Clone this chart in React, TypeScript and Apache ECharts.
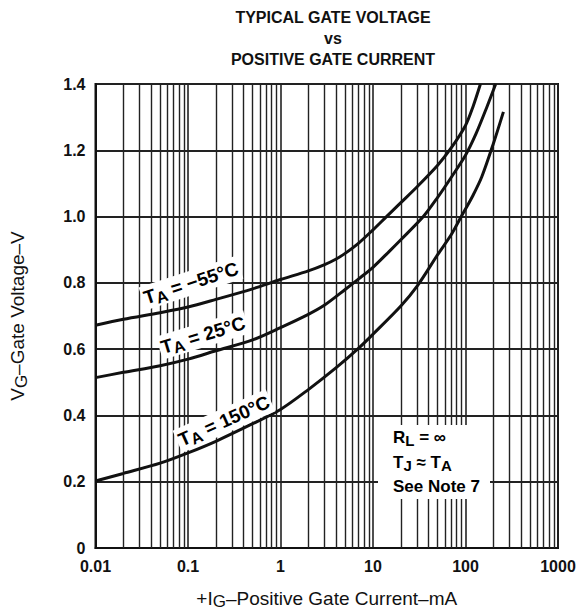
import React, { useEffect, useRef } from "react";
import * as echarts from "echarts";

const titleLines = ["TYPICAL GATE VOLTAGE", "vs", "POSITIVE GATE CURRENT"];
const xTickLabels = ["0.01", "0.1", "1", "10", "100", "1000"];
const yTickLabels = ["0", "0.2", "0.4", "0.6", "0.8", "1.0", "1.2", "1.4"];

const iM55 = [0.01, 0.02, 0.05, 0.1, 0.2, 0.5, 1, 2, 3, 4, 5, 7, 10, 14, 20, 30, 50, 70, 100, 120, 145];
const vM55 = [0.672, 0.69, 0.71, 0.727, 0.75, 0.782, 0.81, 0.836, 0.855, 0.872, 0.889, 0.92, 0.96, 1.0, 1.042, 1.09, 1.155, 1.207, 1.275, 1.33, 1.4];

const i25 = [0.01, 0.02, 0.05, 0.1, 0.2, 0.5, 1, 2, 3, 5, 7, 10, 15, 20, 35, 50, 70, 100, 130, 170, 212];
const v25 = [0.514, 0.53, 0.55, 0.57, 0.595, 0.628, 0.665, 0.705, 0.733, 0.78, 0.812, 0.847, 0.895, 0.93, 1.0, 1.058, 1.118, 1.185, 1.25, 1.33, 1.4];

const i150 = [0.01, 0.02, 0.05, 0.1, 0.2, 0.5, 1, 2, 4, 7, 10, 20, 30, 50, 70, 90, 120, 150, 200, 257];
const v150 = [0.202, 0.225, 0.256, 0.287, 0.322, 0.375, 0.418, 0.478, 0.544, 0.603, 0.645, 0.73, 0.79, 0.885, 0.945, 1.0, 1.063, 1.12, 1.22, 1.316];

const decades = [0.01, 0.1, 1, 10, 100];
const multiples = [2, 3, 4, 5, 6, 7, 8, 9];

const FONT = "Liberation Sans, Arial, Helvetica, sans-serif";

function pairs(xs: number[], ys: number[]) {
  return xs.map((x, i) => [x, ys[i]]);
}

export default function App() {
  const ref = useRef<HTMLDivElement>(null);
  useEffect(() => {
    if (!ref.current) return;
    const chart = echarts.init(ref.current, undefined, { renderer: "svg" });
    const minorX: number[] = [];
    decades.forEach((d) => multiples.forEach((m) => minorX.push(+(d * m).toPrecision(3))));

    const curveStyle = { color: "#111", width: 3 };
    const mk = (size: number, sub: number, weight: string) => ({
      m: { fontSize: size, fontFamily: FONT, fontWeight: weight, lineHeight: size + 5, verticalAlign: "middle", color: "#111" },
      s: { fontSize: sub, fontFamily: FONT, fontWeight: weight, lineHeight: sub - 2, verticalAlign: "bottom", color: "#111" },
    });
    const axisRich = mk(19, 17, "normal");
    const noteRich = mk(17, 15, "bold");
    const curveRich = mk(19, 16, "bold");
    const curveLabel = (text: string, x: number, y: number, deg: number) => ({
      type: "text",
      x,
      y,
      rotation: (deg * Math.PI) / 180,
      z: 100,
      style: {
        text,
        rich: curveRich,
        align: "center",
        verticalAlign: "middle",
        backgroundColor: "#fff",
        padding: [0, 2],
      },
    });

    chart.setOption({
      animation: false,
      backgroundColor: "#fff",
      title: {
        text: titleLines.join("\n"),
        left: 328,
        top: 2,
        textAlign: "center",
        textStyle: { fontFamily: FONT, fontSize: 16, fontWeight: "bold", color: "#111", lineHeight: 21 },
      },
      grid: { left: 89, right: 23, top: 84, bottom: 59, show: true, borderColor: "#111", borderWidth: 2, containLabel: false },
      xAxis: {
        type: "log",
        logBase: 10,
        min: 0.01,
        max: 1000,
        axisLine: { show: true, lineStyle: { color: "#111", width: 2 } },
        axisTick: { show: false },
        splitLine: { show: true, lineStyle: { color: "#222", width: 1.6 } },
        axisLabel: {
          formatter: (_v: number, idx: number) => xTickLabels[idx] ?? "",
          fontFamily: FONT,
          fontSize: 16,
          fontWeight: "bold",
          color: "#111",
          margin: 10,
        },
        name: "{m|+I}{s|G}{m|\u2013Positive Gate Current\u2013mA}",
        nameLocation: "middle",
        nameGap: 38,
        nameTextStyle: { rich: axisRich },
      },
      yAxis: {
        type: "value",
        min: 0,
        max: 1.4,
        interval: 0.2,
        axisLine: { show: true, lineStyle: { color: "#111", width: 2 } },
        axisTick: { show: false },
        splitLine: { show: true, lineStyle: { color: "#222", width: 1.8 } },
        axisLabel: {
          formatter: (_v: number, idx: number) => yTickLabels[idx] ?? "",
          fontFamily: FONT,
          fontSize: 16,
          fontWeight: "bold",
          color: "#111",
          margin: 10,
        },
        name: "{m|V}{s|G}{m|\u2013Gate Voltage\u2013V}",
        nameLocation: "middle",
        nameGap: 66,
        nameRotate: 90,
        nameTextStyle: { rich: axisRich },
      },
      series: [
        {
          type: "line",
          name: "-55",
          data: pairs(iM55, vM55),
          smooth: 0.3,
          showSymbol: false,
          lineStyle: curveStyle,
          z: 10,
          markLine: {
            silent: true,
            symbol: ["none", "none"],
            label: { show: false },
            lineStyle: { color: "#222", width: 1.4, type: "solid" },
            data: minorX.map((v) => ({ xAxis: v })),
            z: 1,
          },
        },
        { type: "line", name: "25", data: pairs(i25, v25), smooth: 0.3, showSymbol: false, lineStyle: curveStyle, z: 10 },
        { type: "line", name: "150", data: pairs(i150, v150), smooth: 0.3, showSymbol: false, lineStyle: curveStyle, z: 10 },
      ],
      graphic: [
        curveLabel("{m|T}{s|A}{m| = \u221255\u00b0C}", 191, 283, 18),
        curveLabel("{m|T}{s|A}{m| = 25\u00b0C}", 203, 335, 17),
        curveLabel("{m|T}{s|A}{m| = 150\u00b0C}", 224, 421, 24),
        {
          type: "rect",
          shape: { x: 378, y: 425, width: 112, height: 74 },
          style: { fill: "#fff" },
          z: 90,
        },
        {
          type: "text",
          x: 393,
          y: 437,
          z: 100,
          style: { text: "{m|R}{s|L}{m| = \u221e}", rich: noteRich, verticalAlign: "middle" },
        },
        {
          type: "text",
          x: 393,
          y: 462,
          z: 100,
          style: { text: "{m|T}{s|J}{m| \u2248 T}{s|A}", rich: noteRich, verticalAlign: "middle" },
        },
        {
          type: "text",
          x: 393,
          y: 486,
          z: 100,
          style: { text: "{m|See Note 7}", rich: noteRich, verticalAlign: "middle" },
        },
      ],
    });
    return () => chart.dispose();
  }, []);
  return <div ref={ref} style={{ position: "absolute", left: 0, top: 0, width: 581, height: 615 }} />;
}
